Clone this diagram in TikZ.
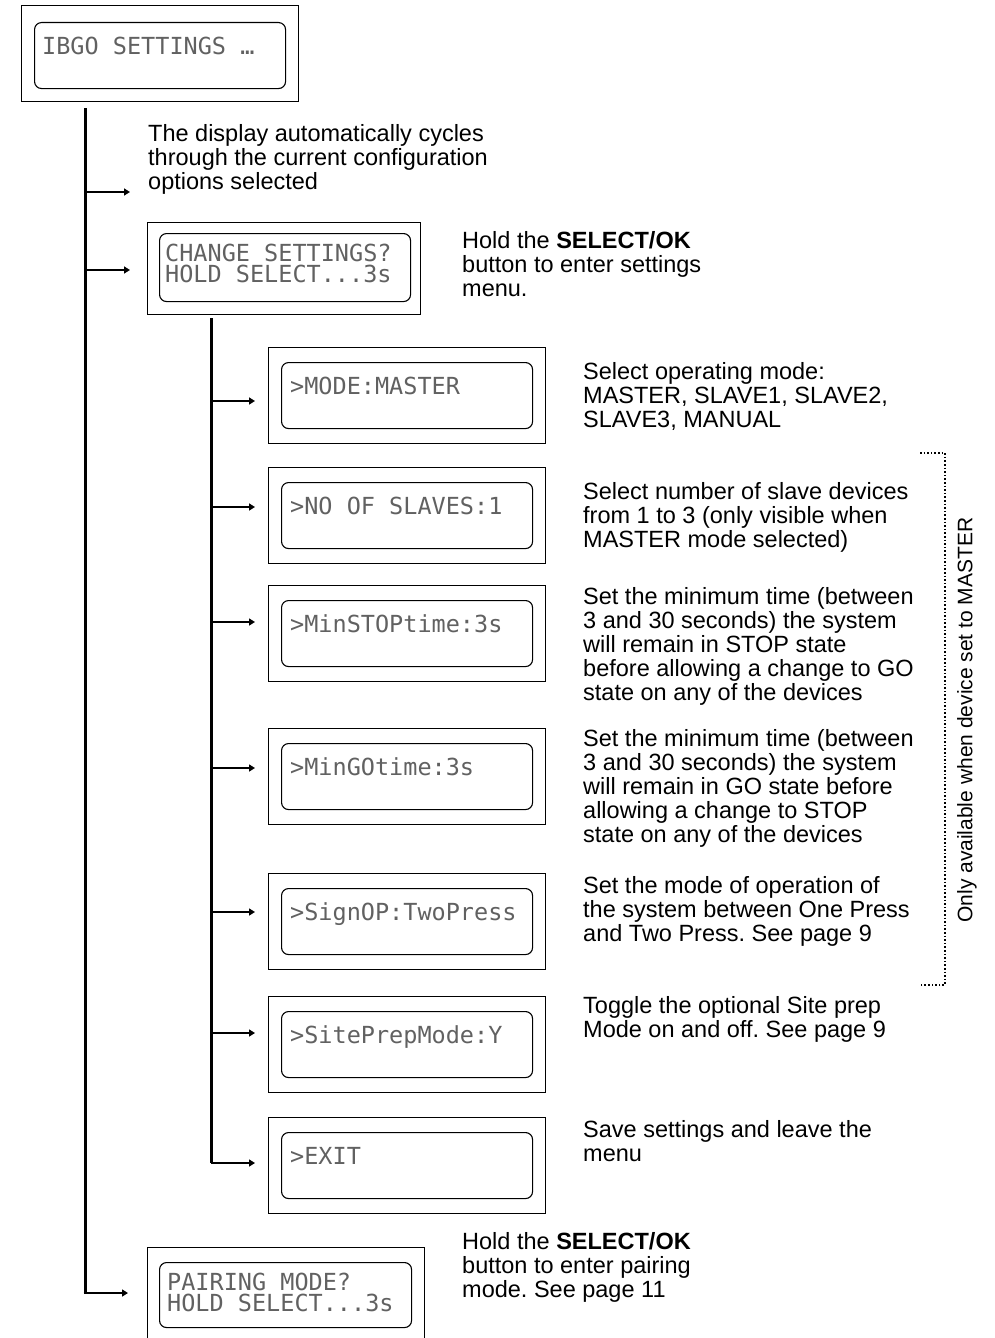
\documentclass[tikz,border=0pt]{standalone}
\usepackage{fontspec}
\setmainfont{Liberation Sans}
\newfontfamily\lcdfont{DejaVu Sans Mono}
\usetikzlibrary{arrows.meta}
\frenchspacing
\begin{document}
\begin{tikzpicture}[x=1pt,y=-1pt,
  outerbox/.style={draw, line width=1.1pt, inner sep=0, anchor=north west},
  lcdbox/.style={draw, line width=1.1pt, rounded corners=7pt, inner sep=0, anchor=north west},
  lcdtext/.style={font=\lcdfont\fontsize{23.5}{21}\selectfont, text=black!62, inner sep=0, anchor=base west, align=left},
  desc/.style={font=\fontsize{23.5}{24}\selectfont, inner sep=0, anchor=base west, align=left},
  trunk/.style={line width=3pt},
  branch/.style={line width=2.1pt, -{Triangle[length=6pt,width=7pt]}},
  bracket/.style={line width=1.6pt, dotted},
]
\useasboundingbox (0,0) rectangle (995,1338);

% top box
\node[outerbox, minimum width=277pt, minimum height=96pt] (top) at (21,5) {};
\node[lcdbox, minimum width=251pt, minimum height=66pt] (topi) at (34,22) {};
\node[lcdtext] (topt) at (42,55) {IBGO SETTINGS …};

% main trunk
\coordinate (ta) at (85,108);
\coordinate (tb) at (85,1293);
\draw[trunk] (ta) -- (tb);

% text 1
\coordinate (a1) at (85,192);
\coordinate (e1) at (130,192);
\draw[branch] (a1) -- (e1);
\node[desc] (t1) at (148,189.4) {The display automatically cycles\\through the current configuration\\options selected};

% change settings box
\node[outerbox, minimum width=273pt, minimum height=92pt] (chg) at (147,222) {};
\node[lcdbox, minimum width=251pt, minimum height=68pt] (chgi) at (159,233) {};
\node[lcdtext] (chgt) at (165,282) {CHANGE SETTINGS?\\HOLD SELECT...3s};
\coordinate (a2) at (85,270);
\coordinate (e2) at (130,270);
\draw[branch] (a2) -- (e2);
\node[desc] (t2) at (462,296.4) {Hold the \textbf{SELECT/OK}\\button to enter settings\\menu.};

% sub trunk
\coordinate (sa) at (211,318);
\coordinate (sb) at (211,1163);
\draw[trunk] (sa) -- (sb);

% sub boxes
\foreach \nm/\yt/\ya/\txt in {
  mode/347/401/{>MODE:MASTER},
  nos/467/507/{>NO OF SLAVES:1},
  mst/585/622/{>MinSTOPtime:3s},
  mgo/728/768/{>MinGOtime:3s},
  sop/873/912/{>SignOP:TwoPress},
  spm/996/1033/{>SitePrepMode:Y},
  ext/1117/1163/{>EXIT}}{
  \node[outerbox, minimum width=277pt, minimum height=96pt] (\nm) at (268,\yt) {};
  \node[lcdbox, minimum width=251pt, minimum height=66pt] (\nm i) at (281,\yt+15) {};
  \node[lcdtext] (\nm t) at (290,\yt+47) {\txt};
  \coordinate (\nm a) at (211,\ya);
  \coordinate (\nm e) at (255,\ya);
  \draw[branch] (\nm a) -- (\nm e);
}

% descriptions
\node[desc] (t3) at (583,427.4) {Select operating mode:\\MASTER, SLAVE1, SLAVE2,\\SLAVE3, MANUAL};
\node[desc] (t4) at (583,547.4) {Select number of slave devices\\from 1 to 3 (only visible when\\MASTER mode selected)};
\node[desc] (t5) at (583,700.4) {Set the minimum time (between\\3 and 30 seconds) the system\\will remain in STOP state\\before allowing a change to GO\\state on any of the devices};
\node[desc] (t6) at (583,842.4) {Set the minimum time (between\\3 and 30 seconds) the system\\will remain in GO state before\\allowing a change to STOP\\state on any of the devices};
\node[desc] (t7) at (583,941.4) {Set the mode of operation of\\the system between One Press\\and Two Press. See page 9};
\node[desc] (t8) at (583,1037.4) {Toggle the optional Site prep\\Mode on and off. See page 9};
\node[desc] (t9) at (583,1161.4) {Save settings and leave the\\menu};

% pairing box
\node[outerbox, minimum width=277pt, minimum height=110pt] (pair) at (147,1247) {};
\node[lcdbox, minimum width=252pt, minimum height=65pt] (pairi) at (159,1262) {};
\node[lcdtext] (pairt) at (167,1311) {PAIRING MODE?\\HOLD SELECT...3s};
\coordinate (pe) at (128,1293);
\draw[branch] ([xshift=-1.5pt]tb) -- (pe);
\node[desc] (t10) at (462,1297.4) {Hold the \textbf{SELECT/OK}\\button to enter pairing\\mode. See page 11};

% dotted bracket
\coordinate (bq1) at (920,453);
\coordinate (bq2) at (945,453);
\coordinate (bq3) at (945,985);
\coordinate (bq4) at (920,985);
\draw[bracket] (bq1) -- (bq2) -- (bq3) -- (bq4);
\node[font=\fontsize{21}{24}\selectfont, rotate=90, inner sep=0] (side) at (967,720) {Only available when device set to MASTER};
\end{tikzpicture}
\end{document}
